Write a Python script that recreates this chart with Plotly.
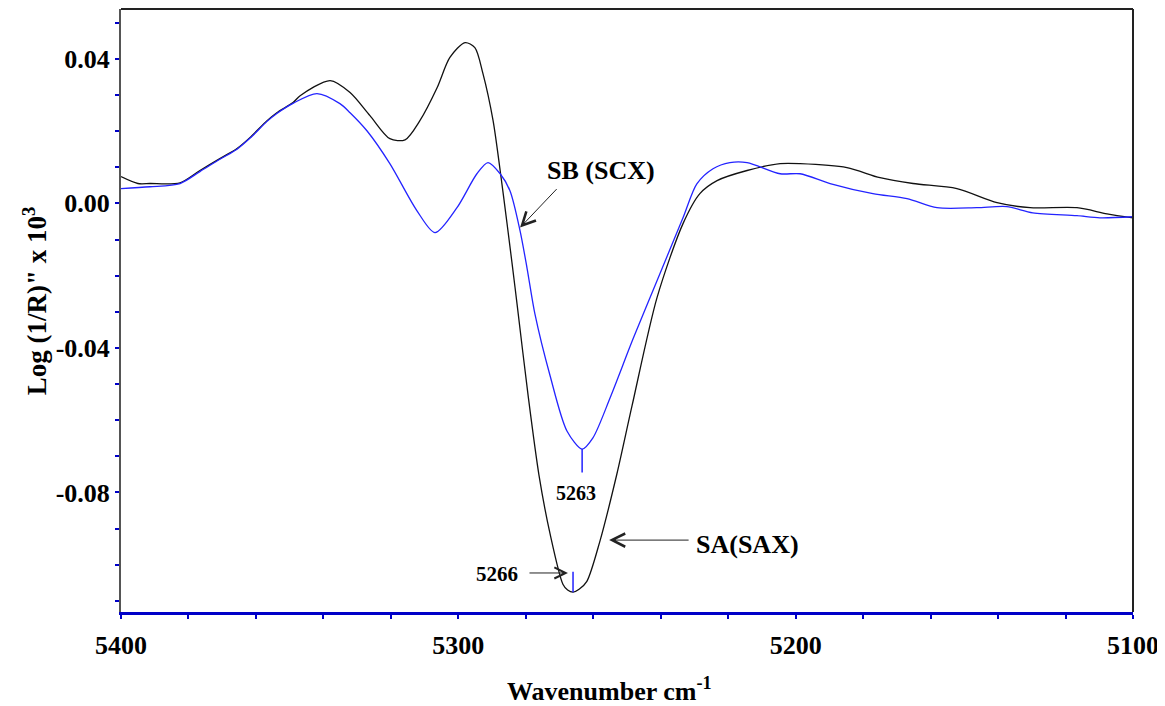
import plotly.graph_objects as go

# ---- data ----
sa_wavenumber = [5400, 5395, 5391.4, 5382.5, 5376.6, 5370.7, 5365.6, 5361.8, 5356.7, 5353.8,
                 5349.0, 5346.9, 5338.0, 5332.1, 5326.2, 5320.3, 5315.8, 5311.4, 5306.3, 5302.5,
                 5298.0, 5295.1, 5292.7, 5289.7, 5287.6, 5285.6, 5284.1, 5282.6, 5279.3, 5276.1,
                 5272.8, 5269.0, 5267.6, 5266.0, 5264.2, 5261.9, 5258.0, 5253.0, 5248.5, 5241.1,
                 5233.4, 5228.4, 5223.3, 5214.4, 5204.6, 5198.7, 5184.8, 5175.0, 5165.2, 5152.2,
                 5140.3, 5130.5, 5116.6, 5107.7, 5100]
sa_values = [0.0074, 0.0055, 0.0055, 0.0057, 0.0091, 0.0124, 0.0152, 0.0182, 0.0229, 0.0251,
             0.0279, 0.0298, 0.0340, 0.0307, 0.0243, 0.0179, 0.0176, 0.0229, 0.0320, 0.0404,
             0.0445, 0.0431, 0.0359, 0.0229, 0.0091, -0.0053, -0.0164, -0.0278, -0.0533, -0.0752,
             -0.0915, -0.1054, -0.1070, -0.1076, -0.1068, -0.1046, -0.0934, -0.0749, -0.0560, -0.0261,
             -0.0056, 0.0027, 0.0063, 0.0091, 0.0110, 0.0110, 0.0099, 0.0071, 0.0055, 0.0041,
             0.0002, -0.0012, -0.0012, -0.0029, -0.0040]

sb_wavenumber = [5400, 5391.4, 5382.5, 5376.6, 5370.7, 5365.6, 5361.8, 5356.7, 5353.8, 5349.0,
                 5341.9, 5335.1, 5332.1, 5327.1, 5320.3, 5312.3, 5306.9, 5300.4, 5294.5, 5291.2,
                 5287.6, 5284.7, 5281.7, 5279.6, 5277.3, 5272.8, 5267.8, 5263.3, 5260.1, 5255.0,
                 5248.2, 5241.1, 5233.4, 5229.3, 5224.5, 5219.5, 5214.4, 5204.6, 5198.7, 5189.8,
                 5177.1, 5167.0, 5158.1, 5146.3, 5137.4, 5129.7, 5116.6, 5109.8, 5100]
sb_values = [0.0041, 0.0046, 0.0055, 0.0088, 0.0122, 0.0150, 0.0180, 0.0227, 0.0249, 0.0277,
             0.0304, 0.0276, 0.0251, 0.0201, 0.0110, -0.0020, -0.0081, -0.0012, 0.0082, 0.0113,
             0.0082, 0.0035, -0.0076, -0.0181, -0.0306, -0.0477, -0.0630, -0.0680, -0.0649, -0.0538,
             -0.0375, -0.0214, -0.0040, 0.0054, 0.0096, 0.0113, 0.0113, 0.0082, 0.0082, 0.0055,
             0.0027, 0.0013, -0.0012, -0.0012, -0.0009, -0.0026, -0.0034, -0.0040, -0.0037]

x_tick_vals = [5400, 5300, 5200, 5100]
x_tick_text = ["5400", "5300", "5200", "5100"]
y_tick_vals = [-0.08, -0.04, 0.0, 0.04]
y_tick_text = ["-0.08", "-0.04", "0.00", "0.04"]

sa_label = "SA(SAX)"
sb_label = "SB (SCX)"
sa_peak_label = "5266"
sb_peak_label = "5263"

# ---- styling ----
FONT = "Liberation Serif"
BLUE = "#2323ff"
BLACK = "#111111"
AXBLUE = "#0000c8"

sa_i = min(range(len(sa_values)), key=lambda i: sa_values[i])
sb_i = min(range(len(sb_values)), key=lambda i: sb_values[i])
sa_min_x, sa_min_y = sa_wavenumber[sa_i], sa_values[sa_i]
sb_min_x, sb_min_y = sb_wavenumber[sb_i], sb_values[sb_i]

fig = go.Figure()
fig.add_trace(go.Scatter(x=sa_wavenumber, y=sa_values, mode="lines", name=sa_label,
                         line=dict(color=BLACK, width=1.3, shape="spline", smoothing=0.8)))
fig.add_trace(go.Scatter(x=sb_wavenumber, y=sb_values, mode="lines", name=sb_label,
                         line=dict(color=BLUE, width=1.3, shape="spline", smoothing=0.8)))


def bold(size):
    return dict(family=FONT, size=size, color="black", weight="bold")


annotations = [
    # SB label + arrow
    dict(x=5257.7, y=0.0091, text=sb_label, showarrow=False, font=bold(26)),
    dict(x=5281.7, y=-0.0067, text="", showarrow=True, ax=38, ay=-40,
         arrowhead=5, arrowsize=2.6, arrowwidth=1, arrowcolor="#222"),
    # SA label + arrow
    dict(x=5214.4, y=-0.0943, text=sa_label, showarrow=False, font=bold(26)),
    dict(x=5255.3, y=-0.0932, text="", showarrow=True, ax=81, ay=0,
         arrowhead=5, arrowsize=2.6, arrowwidth=1, arrowcolor="#222"),
    # SB minimum marker
    dict(x=sb_min_x, y=sb_min_y, text="", showarrow=True, ax=0, ay=25,
         arrowhead=0, arrowwidth=1.5, arrowcolor=BLUE),
    dict(x=sb_min_x, y=sb_min_y, text=sb_peak_label, showarrow=False,
         xshift=-6, yshift=-44, font=bold(20)),
    # SA minimum marker
    dict(x=sa_min_x, y=sa_min_y, text="", showarrow=True, ax=0, ay=-22,
         arrowhead=0, arrowwidth=1.5, arrowcolor=BLUE),
    dict(x=sa_min_x, y=sa_min_y, text=sa_peak_label, showarrow=False,
         xshift=-76, yshift=18, font=bold(21)),
    dict(x=5267.5, y=-0.1023, text="", showarrow=True, ax=-40, ay=0,
         arrowhead=5, arrowsize=2.2, arrowwidth=1, arrowcolor="#222"),
    # axis titles
    dict(xref="paper", yref="paper", x=0.483, y=-0.129, text="Wavenumber cm<sup>-1</sup>",
         showarrow=False, font=bold(26), xanchor="center", yanchor="middle"),
    dict(xref="paper", yref="paper", x=-0.085, y=0.517, text="Log (1/R)\" x 10<sup>3</sup>",
         showarrow=False, textangle=-90, font=bold(27),
         xanchor="center", yanchor="middle"),
]

fig.update_layout(
    width=1157, height=698,
    margin=dict(l=113, r=32, t=1, b=94),
    paper_bgcolor="white", plot_bgcolor="white",
    showlegend=False,
    annotations=annotations,
    shapes=[
        dict(type="line", xref="paper", yref="paper", x0=0, x1=1, y0=1, y1=1,
             line=dict(color="#222", width=2)),
        dict(type="line", xref="paper", yref="paper", x0=1, x1=1, y0=0, y1=1,
             line=dict(color="#222", width=2)),
    ],
    xaxis=dict(
        range=[5400, 5100], tickmode="array", tickvals=x_tick_vals, ticktext=x_tick_text,
        ticks="outside", ticklen=4, tickcolor=AXBLUE, tickwidth=1.5,
        showline=True, linecolor=AXBLUE, linewidth=2.5,
        showgrid=False, zeroline=False,
        tickfont=bold(26),
        ticklabelstandoff=4,
        ticklabeloverflow="allow",
        minor=dict(tickmode="linear", tick0=5100, dtick=20, ticks="outside",
                   ticklen=4, tickcolor=AXBLUE, tickwidth=1.5, showgrid=False),
    ),
    yaxis=dict(
        range=[-0.1131, 0.0538], tickmode="array", tickvals=y_tick_vals, ticktext=y_tick_text,
        ticks="outside", ticklen=4, tickcolor=AXBLUE, tickwidth=1.5,
        showline=True, linecolor="#555", linewidth=2,
        showgrid=False, zeroline=False,
        tickfont=bold(26),
        ticklabelstandoff=0,
        minor=dict(tickmode="linear", tick0=0, dtick=0.01, ticks="outside",
                   ticklen=4, tickcolor=AXBLUE, tickwidth=1.5, showgrid=False),
    ),
)

fig.write_html("out.html")
